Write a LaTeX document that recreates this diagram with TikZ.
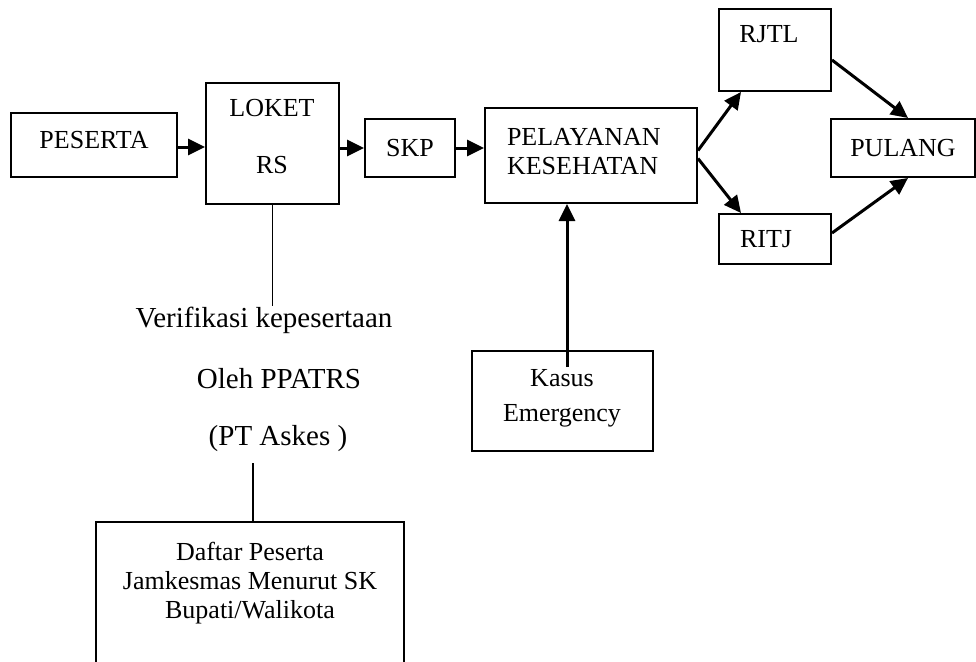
\documentclass[tikz,border=0pt]{standalone}
\usepackage{fontspec}
\setmainfont{Liberation Serif}
\usetikzlibrary{arrows.meta}

\begin{document}
\begin{tikzpicture}[
		x=1pt, y=-1pt,
		every node/.style={rectangle, draw, line width=2pt, inner sep=0pt, font=\fontsize{26}{29}\selectfont},
		txt/.style={draw=none, align=center},
		big/.style={draw=none, font=\fontsize{29}{34}\selectfont, anchor=base},
		arr/.style={line width=3pt, -{Triangle[length=17pt, width=16pt]}},
		link/.style={line width=1.8pt}
	]
  \path[use as bounding box, clip] (0,0) rectangle (976,661);
  \node (peserta) [minimum width=166pt, minimum height=64pt] at (94,145) {};
  \node (peserta_label) [txt] at (94,140) {PESERTA};
  \node (loket) [minimum width=133pt, minimum height=121pt] at (272.5,143.5) {};
  \node (loket_top) [txt] at (272,108) {LOKET};
  \node (loket_bot) [txt] at (272,165) {RS};
  \node (skp) [minimum width=90pt, minimum height=58pt] at (410,148) {SKP};
  \node (pel) [minimum width=212pt, minimum height=95pt] at (591,155.5) {};
  \node (pel_label) [txt, align=left, anchor=north west] at (506,127) {PELAYANAN\\KESEHATAN};
  \node (rjtl) [minimum width=112pt, minimum height=82pt] at (775,50) {};
  \node (rjtl_label) [txt] at (769,34) {RJTL};
  \node (ritj) [minimum width=112pt, minimum height=50pt] at (775,239) {};
  \node (ritj_label) [txt] at (766,239) {RITJ};
  \node (pulang) [minimum width=144pt, minimum height=58pt] at (903,148) {PULANG};
  \node (kasus) [minimum width=181pt, minimum height=100pt] at (562.5,401) {};
  \node (kasus_label) [txt, anchor=north, font=\fontsize{26}{35}\selectfont] at (562,368) {Kasus\\Emergency};
  \node (verA) [big] at (264,327) {Verifikasi kepesertaan};
  \node (verB) [big] at (279,388) {Oleh PPATRS};
  \node (verC) [big] at (278,445) {(PT Askes )};
  \node (daftar) [minimum width=308pt, minimum height=160pt] at (250,602) {};
  \node (daftar_label) [txt, anchor=north] at (250,541) {Daftar Peserta\\Jamkesmas Menurut SK\\Bupati/Walikota};
  \draw[arr] ([yshift=-2pt]peserta.east) -- ([yshift=-2pt]peserta.east -| loket.west);
  \draw[arr] (loket.east |- skp.west) -- (skp.west);
  \draw[arr] (skp.east) -- (skp.east -| pel.west);
  \draw[arr] ([yshift=5pt]pel.east) -- ([xshift=23pt]rjtl.south west);
  \draw[arr] ([yshift=-3pt]pel.east) -- ([xshift=23pt]ritj.north west);
  \draw[arr] ([yshift=-10pt]rjtl.east) -- ([xshift=5pt]pulang.north);
  \draw[arr] ([yshift=6pt]ritj.east) -- ([xshift=5pt]pulang.south);
  \draw[arr] ([xshift=4.5pt,yshift=-17pt]kasus.north) -- ([xshift=4.5pt]kasus.north |- pel.south);
  \draw[link] (loket.south) -- (loket.south |- verA.north);
  \draw[link] ([xshift=3pt]daftar.north) -- ([xshift=3pt,yshift=-11pt]daftar.north |- verC.south);
\end{tikzpicture}
\end{document}
